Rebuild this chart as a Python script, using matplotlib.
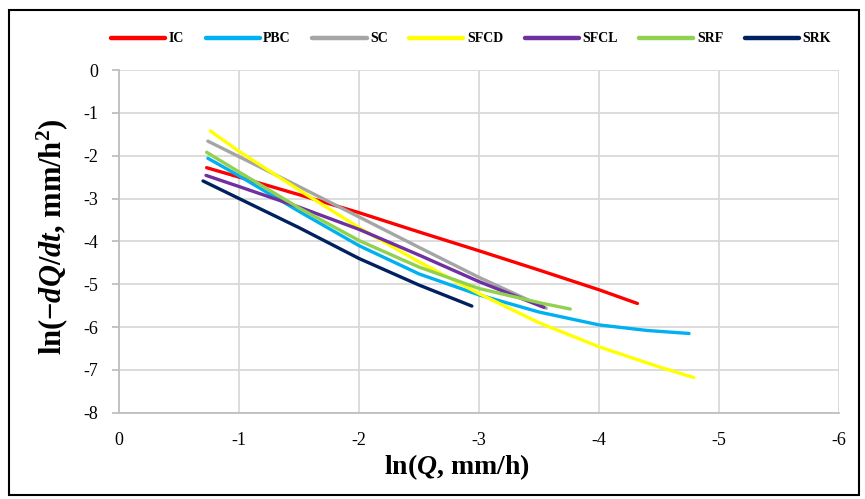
import matplotlib
matplotlib.use("Agg")
import matplotlib.pyplot as plt
from matplotlib.patches import Rectangle

plt.rcParams['font.family'] = ['Liberation Serif', 'DejaVu Serif']
plt.rcParams['axes.unicode_minus'] = False
plt.rcParams['mathtext.fontset'] = 'custom'
plt.rcParams['mathtext.rm'] = 'Liberation Serif:bold'
plt.rcParams['mathtext.it'] = 'Liberation Serif:bold:italic'
plt.rcParams['mathtext.bf'] = 'Liberation Serif:bold'

ic_x = [-0.73, -1.0, -1.5, -2.0, -2.5, -3.0, -3.5, -4.0, -4.32]
ic_y = [-2.28, -2.50, -2.91, -3.33, -3.78, -4.22, -4.67, -5.13, -5.45]

pbc_x = [-0.74, -1.0, -1.5, -2.0, -2.5, -3.0, -3.5, -4.0, -4.4, -4.75]
pbc_y = [-2.06, -2.47, -3.30, -4.10, -4.76, -5.25, -5.65, -5.95, -6.08, -6.15]

sc_x = [-0.74, -1.5, -2.0, -2.5, -3.0, -3.56]
sc_y = [-1.66, -2.72, -3.43, -4.14, -4.84, -5.56]

sfcd_x = [-0.76, -1.0, -1.5, -2.0, -2.5, -3.0, -3.5, -4.0, -4.5, -4.79]
sfcd_y = [-1.42, -1.90, -2.80, -3.68, -4.48, -5.22, -5.90, -6.46, -6.93, -7.18]

sfcl_x = [-0.725, -1.0, -1.5, -2.0, -2.5, -3.0, -3.54]
sfcl_y = [-2.46, -2.72, -3.20, -3.72, -4.32, -4.94, -5.54]

srf_x = [-0.73, -1.0, -1.5, -2.0, -2.5, -3.0, -3.5, -3.76]
srf_y = [-1.92, -2.38, -3.22, -3.98, -4.60, -5.10, -5.43, -5.58]

srk_x = [-0.70, -1.0, -1.5, -2.0, -2.5, -2.94]
srk_y = [-2.59, -3.00, -3.68, -4.40, -5.02, -5.51]

series = [
    ('IC', ic_x, ic_y, '#ff0000'),
    ('PBC', pbc_x, pbc_y, '#00b0f0'),
    ('SC', sc_x, sc_y, '#a5a5a5'),
    ('SFCD', sfcd_x, sfcd_y, '#ffff00'),
    ('SFCL', sfcl_x, sfcl_y, '#7030a0'),
    ('SRF', srf_x, srf_y, '#92d050'),
    ('SRK', srk_x, srk_y, '#002060'),
]

fig = plt.figure(figsize=(8.65, 4.99), dpi=100)
ax = fig.add_axes([0.1376, 0.1729, 0.8324, 0.6868])

for name, xs, ys, c in series:
    ax.plot(xs, ys, color=c, lw=2.4, label=name, solid_capstyle='round')

ax.set_xlim(0, -6)
ax.set_ylim(-8, 0)
ax.set_xticks(range(0, -7, -1))
ax.set_yticks(range(0, -9, -1))
ax.grid(color='#d9d9d9', lw=1.3)
ax.set_axisbelow(True)
for s in ['top', 'right']:
    ax.spines[s].set_visible(False)
for s in ['left', 'bottom']:
    ax.spines[s].set_color('#bfbfbf')
    ax.spines[s].set_linewidth(1.3)
ax.tick_params(axis='y', length=5, color='#bfbfbf', width=1.3, labelsize=13, pad=10)
ax.tick_params(axis='x', length=0, labelsize=13, pad=14)

ax.set_xlabel(r'ln($Q$, mm/h)', fontsize=20, fontweight='bold')
ax.xaxis.set_label_coords((457 - 119) / 720, -0.116)
ax.set_ylabel(r'ln($-dQ/dt$, mm/h$^2$)', fontsize=22, fontweight='bold')
ax.yaxis.set_label_coords((70 - 119) / 720, 0.513)

fig.legend(loc='center left', bbox_to_anchor=(111 / 865, 1 - 39 / 499), ncol=7,
           frameon=False, prop={'weight': 'bold', 'size': 10}, handlelength=3.9,
           handletextpad=0.25, columnspacing=1.55, borderaxespad=0, borderpad=0)
for h in fig.legends[0].get_lines():
    h.set_linewidth(3.2)

fig.patches.append(Rectangle((9 / 865, 4 / 499), 850 / 865, 485 / 499,
                             transform=fig.transFigure, fill=False,
                             edgecolor='black', lw=1.5))

fig.savefig('out.png', dpi=100)
